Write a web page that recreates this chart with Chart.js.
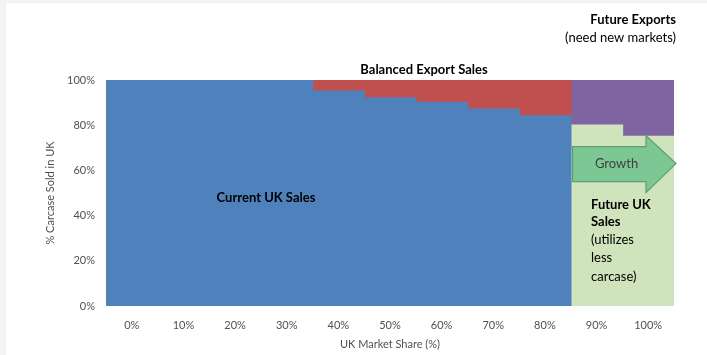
<!DOCTYPE html>
<html>
<head>
<meta charset="utf-8">
<script src="https://cdn.jsdelivr.net/npm/chart.js@4"></script>
<style>
  html, body { margin: 0; padding: 0; background: #f2f3f5; }
  #wrap { position: absolute; left: 6px; top: 3px; width: 701px; height: 352px; background: #fff; }
</style>
</head>
<body>
<div id="wrap"><canvas id="chart"></canvas></div>
<script>
const shares = ["0%", "10%", "20%", "30%", "40%", "50%", "60%", "70%", "80%", "90%", "100%"];
const currentUK = [100, 100, 100, 100, 95, 92, 90, 87, 84, null, null];
const balancedExport = [null, null, null, null, 5, 8, 10, 13, 16, null, null];
const futureUK = [null, null, null, null, null, null, null, null, null, 80, 75];
const futureExports = [null, null, null, null, null, null, null, null, null, 20, 25];
const yTicks = [0, 20, 40, 60, 80, 100];

const FONT = "Lato, 'Open Sans', sans-serif";
const GREY = "#505050";

function bar(label, data, color) {
  return {
    label: label,
    data: data,
    backgroundColor: color,
    borderWidth: 0,
    inflateAmount: 0.8,
    barPercentage: 1,
    categoryPercentage: 1
  };
}

// text + growth arrow drawn on top of the bars
const notes = {
  id: "notes",
  afterDatasetsDraw(c) {
    const ctx = c.ctx;
    const xs = c.scales.x, ys = c.scales.y;
    ctx.save();
    ctx.fillStyle = "#000";
    ctx.textBaseline = "middle";

    ctx.font = "bold 13px " + FONT;
    ctx.textAlign = "center";
    ctx.fillText("Balanced Export Sales", 418, 67);
    ctx.fillText("Current UK Sales", 260, 195);

    ctx.textAlign = "right";
    ctx.fillText("Future Exports", 670, 17);
    ctx.font = "13px " + FONT;
    ctx.fillText("(need new markets)", 670, 35);

    // growth arrow
    const x0 = xs.getPixelForValue(9) - 24;
    const right = c.chartArea.right + 2;
    const neck = right - 30;
    const cy = ys.getPixelForValue(63);
    ctx.beginPath();
    ctx.moveTo(x0, cy - 17);
    ctx.lineTo(neck, cy - 17);
    ctx.lineTo(neck, cy - 28);
    ctx.lineTo(right, cy);
    ctx.lineTo(neck, cy + 29);
    ctx.lineTo(neck, cy + 18);
    ctx.lineTo(x0, cy + 18);
    ctx.closePath();
    ctx.fillStyle = "#7dc794";
    ctx.fill();
    ctx.strokeStyle = "#5e9e70";
    ctx.lineWidth = 1.2;
    ctx.stroke();
    ctx.fillStyle = "#404040";
    ctx.textAlign = "center";
    ctx.font = "13px " + FONT;
    ctx.fillText("Growth", x0 + 44, cy);

    ctx.fillStyle = "#000";
    ctx.textAlign = "left";
    const lx = 585;
    ctx.font = "bold 13px " + FONT;
    ctx.fillText("Future UK", lx, 202);
    ctx.fillText("Sales", lx, 219);
    ctx.font = "13px " + FONT;
    ctx.fillText("(utilizes", lx, 237);
    ctx.fillText("less", lx, 255);
    ctx.fillText("carcase)", lx, 274);
    ctx.restore();
  }
};

new Chart(document.getElementById("chart"), {
  type: "bar",
  data: {
    labels: shares,
    datasets: [
      bar("Current UK Sales", currentUK, "#4f81bd"),
      bar("Future UK Sales", futureUK, "#cfe3bd"),
      bar("Balanced Export Sales", balancedExport, "#c0504d"),
      bar("Future Exports", futureExports, "#8064a2")
    ]
  },
  options: {
    responsive: true,
    maintainAspectRatio: false,
    animation: false,
    layout: { padding: { top: 77, right: 33, left: 0, bottom: 0 } },
    plugins: {
      legend: { display: false },
      tooltip: { enabled: false }
    },
    scales: {
      x: {
        stacked: true,
        grid: { display: false, drawTicks: false },
        border: { display: false },
        ticks: { color: GREY, font: { family: FONT, size: 11 }, padding: 13, maxRotation: 0 },
        title: { display: true, text: "UK Market Share (%)", color: GREY, font: { family: FONT, size: 11 }, padding: { top: 4 } },
        afterFit(s) { s.height = 49; }
      },
      y: {
        stacked: true,
        min: 0,
        max: 100,
        grid: { display: false, drawTicks: false },
        border: { display: false },
        afterBuildTicks(s) { s.ticks = yTicks.map(v => ({ value: v })); },
        ticks: { color: GREY, font: { family: FONT, size: 11 }, padding: 11, callback: v => v + "%" },
        title: { display: true, text: "% Carcase Sold in UK", color: GREY, font: { family: FONT, size: 11 }, padding: { top: 38 } },
        afterFit(s) { s.width = 100; }
      }
    }
  },
  plugins: [notes]
});
</script>
</body>
</html>
